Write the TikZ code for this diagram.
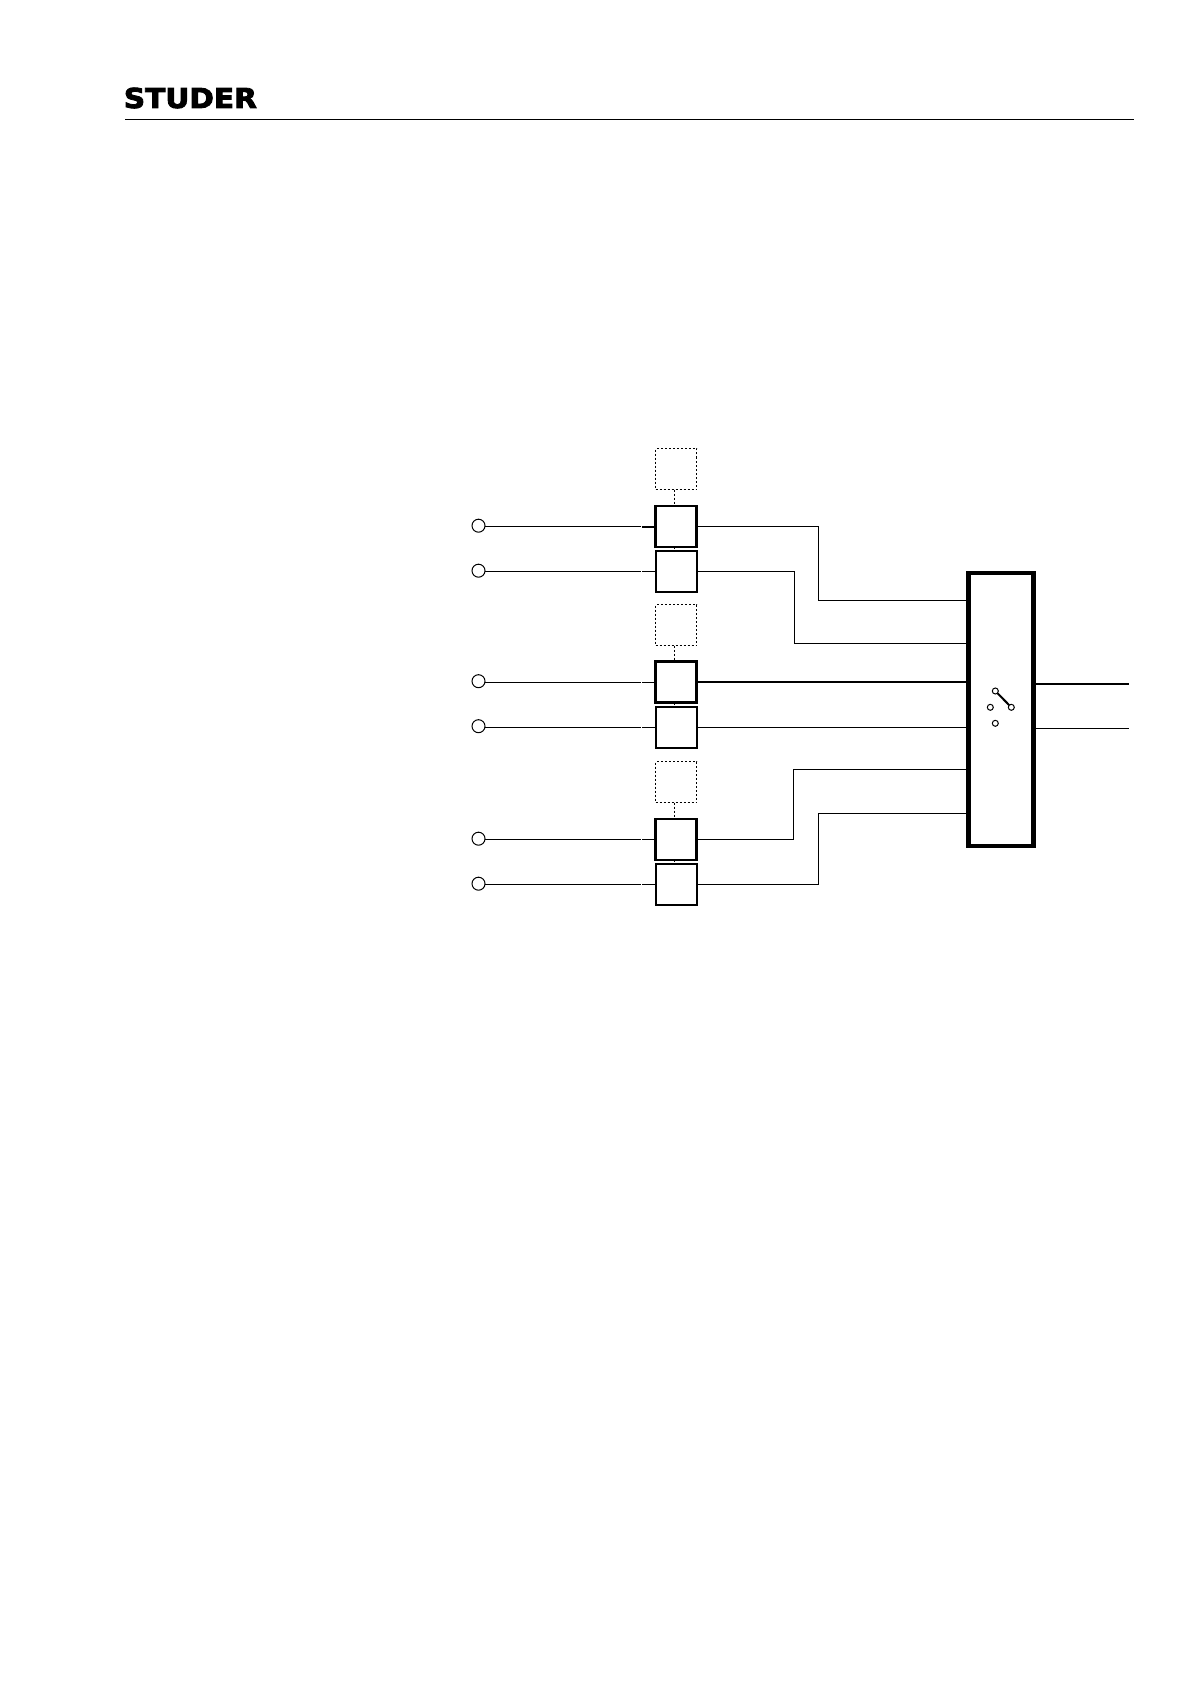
\documentclass[tikz,border=0pt]{standalone}
\usepackage{fontspec}
\newfontfamily\logofont[FakeBold=3]{DejaVu Sans}
\usetikzlibrary{positioning,calc}
\tikzset{
  unitbox/.style={draw,fill=white,outer sep=0pt,minimum size=20.5pt,inner sep=0pt,line width=1.1pt},
  unitboxb/.style={unitbox,line width=1pt},
  optbox/.style={draw,dash pattern=on 1pt off 1pt,outer sep=0pt,minimum size=20.5pt,inner sep=0pt,line width=0.6pt},
  inputnode/.style={circle,draw,fill=white,outer sep=0pt,minimum size=6.5pt,inner sep=0pt,line width=0.5pt,yshift=.4pt},
  contact/.style={circle,draw,fill=white,outer sep=0pt,minimum size=3pt,inner sep=0pt,line width=0.5pt},
  switchbox/.style={draw,outer sep=0pt,minimum width=32.75pt,minimum height=136.5pt,inner sep=0pt,line width=2.4pt},
  thinline/.style={line width=0.5pt},
  thickline/.style={line width=1pt},
  optlink/.style={dash pattern=on 1pt off 1pt,line width=0.6pt},
}
\begin{document}
\begin{tikzpicture}
  \useasboundingbox (0,0) rectangle (595.5pt,-842pt);
  % header
  \node[anchor=base west,inner sep=0pt,xscale=1.08,font=\logofont\bfseries\fontsize{13.7}{14}\selectfont] (logo) at (61.7pt,-54pt) {STUDER};
  \coordinate (rulel) at (62.5pt,-59.65pt);
  \coordinate (ruler) at (567pt,-59.65pt);
  \draw[thinline] (rulel) -- (ruler);
  % units
  \node[unitbox] (box1) at (338pt,-263.25pt) {};
  \node[optbox,above=8.25pt of box1] (opt1) {};
  \node[unitboxb,below=2pt of box1] (box2) {};
  \node[optbox,below=6.25pt of box2] (opt2) {};
  \node[unitbox,below=8pt of opt2] (box3) {};
  \node[unitboxb,below=2pt of box3] (box4) {};
  \node[optbox,below=7pt of box4] (opt3) {};
  \node[unitbox,below=8.25pt of opt3] (box5) {};
  \node[unitboxb,below=2pt of box5] (box6) {};
  \foreach \o/\b/\n in {opt1/box1/box2,opt2/box3/box4,opt3/box5/box6}{
    \draw[optlink] ([xshift=-.8pt]\o.south) -- ([xshift=-.8pt]\b.north);
    \draw[optlink] ([xshift=-.8pt]\b.south) -- ([xshift=-.8pt]\n.north);
  }
  % inputs
  \foreach \i in {1,...,6}{
    \node[inputnode,left=85.25pt of box\i] (in\i) {};
    \coordinate[left=7pt of box\i] (stub\i);
    \draw[thinline,shorten >=0.4pt] (in\i.east |- stub\i) -- (stub\i);
  }
  \draw[thickline] (stub1) -- (box1);
  \foreach \i in {2,...,6}{
    \draw[thinline,shorten <=0.4pt] (stub\i) -- (box\i);
  }
  % switch
  \node[switchbox] (switch) at (500.5pt,-354.75pt) {};
  \foreach \i/\d in {1/13.75,2/35.25,5/98,6/120.25}{
    \coordinate (sw\i) at ($(switch.north west)+(0,-\d pt)$);
  }
  \draw[thinline] (box1.east) -- ++(61pt,0) |- (sw1);
  \draw[thinline] (box2.east) -- ++(48.75pt,0) |- (sw2);
  \draw[thickline] (box3.east) -- (box3.east -| switch.west);
  \draw[thinline] (box4.east) -- (box4.east -| switch.west);
  \draw[thinline] (box5.east) -- ++(48.25pt,0) |- (sw5);
  \draw[thinline] (box6.east) -- ++(60.75pt,0) |- (sw6);
  % outputs
  \coordinate (out1) at (564.5pt,-341.85pt);
  \coordinate (out2) at (564.5pt,-364.15pt);
  \draw[thickline] (out1 -| switch.east) -- (out1);
  \draw[thinline] (out2 -| switch.east) -- (out2);
  % contacts
  \node[contact] (ca) at (497.65pt,-345.5pt) {};
  \node[contact] (cb) at (505.65pt,-353.65pt) {};
  \node[contact] (cc) at (495.15pt,-353.65pt) {};
  \node[contact] (cd) at (497.65pt,-361.65pt) {};
  \draw[thickline] (ca) -- (cb);
\end{tikzpicture}
\end{document}
